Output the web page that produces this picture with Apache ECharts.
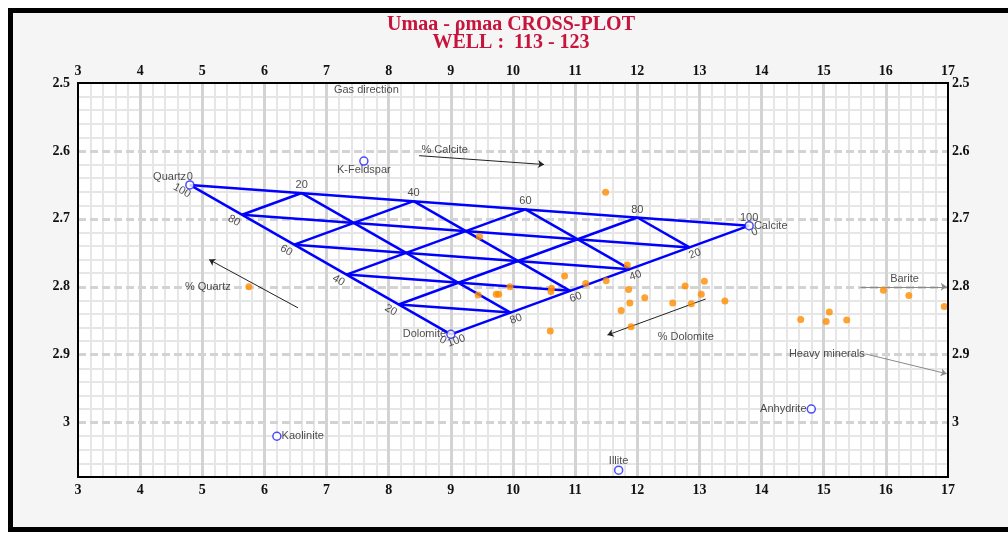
<!DOCTYPE html>
<html>
<head>
<meta charset="utf-8">
<script src="https://cdn.jsdelivr.net/npm/echarts@6/dist/echarts.min.js"></script>
<style>
  html, body { margin: 0; padding: 0; background: #fff; }
  #frame { position: absolute; left: 8px; top: 8px; width: 1020px; height: 514px;
           border: 5px solid #000; background: #f5f5f5; }
  #chart { position: absolute; left: 0; top: 0; width: 1008px; height: 534px; }
</style>
</head>
<body>
<div id="frame"></div>
<div id="chart"></div>
<script>
// Axis ticks (Umaa on x, rho-maa on y)
const uTicks = [3, 4, 5, 6, 7, 8, 9, 10, 11, 12, 13, 14, 15, 16, 17];
const rhoTicks = [2.5, 2.6, 2.7, 2.8, 2.9, 3.0];
const rhoMax = 3.08;

// Reference minerals
const mineralNames = ['Quartz', 'K-Feldspar', 'Calcite', 'Dolomite', 'Kaolinite', 'Illite', 'Anhydrite'];
const mineralU     = [4.8, 7.6, 13.8, 9.0, 6.2, 11.7, 14.8];
const mineralRho   = [2.65, 2.615, 2.71, 2.87, 3.02, 3.07, 2.98];

// Ternary grid steps (percent) and edge tick values
const ternarySteps = [20, 40, 60, 80];
const edgeTicks = [0, 20, 40, 60, 80, 100];

// Well 113 - 123 samples
const wellU = [11.49, 9.46, 11.84, 10.83, 11.17, 11.50, 9.95, 9.44, 9.73, 9.77,
               10.62, 10.61, 11.86, 12.77, 13.08, 13.03, 13.41, 12.12, 11.88, 12.57,
               12.87, 11.74, 11.90, 10.60, 5.75, 15.96, 16.37, 16.94, 14.63, 15.09,
               15.04, 15.37];
const wellRho = [2.661, 2.726, 2.768, 2.784, 2.795, 2.791, 2.800, 2.812, 2.811, 2.811,
                 2.802, 2.807, 2.804, 2.799, 2.792, 2.811, 2.821, 2.816, 2.824, 2.824,
                 2.825, 2.835, 2.859, 2.865, 2.800, 2.805, 2.813, 2.829, 2.848, 2.837,
                 2.851, 2.849];

// Annotation texts
const noteLabels = ['Gas direction', '% Calcite', '% Quartz', '% Dolomite', 'Barite', 'Heavy minerals'];
const noteU   = [7.64, 8.90, 5.09, 12.78, 16.30, 15.05];
const noteRho = [2.510, 2.599, 2.800, 2.874, 2.789, 2.899];

// Trend arrows
const arrowNames   = ['% Calcite', '% Quartz', '% Dolomite', 'Barite', 'Heavy minerals'];
const arrowFromU   = [8.49, 6.54, 13.10, 15.59, 15.68];
const arrowFromRho = [2.607, 2.831, 2.818, 2.800, 2.899];
const arrowToU     = [10.50, 5.11, 11.52, 16.98, 16.98];
const arrowToRho   = [2.620, 2.760, 2.871, 2.800, 2.928];

// ---- layout / styles ----
const gridBox = { left: 78, top: 83, right: 60, bottom: 57 };
const SANS = '"Liberation Sans", Arial, sans-serif';
const SERIF = '"Liberation Serif", "Times New Roman", serif';
const TEXT = '#222';
const greyArrows = ['Barite', 'Heavy minerals'];

const mineralLabel = {
  'Quartz':     { position: 'left',   distance: -1, offset: [0, -8] },
  'K-Feldspar': { position: 'bottom', distance: -1 },
  'Calcite':    { position: 'right',  distance: 0 },
  'Dolomite':   { position: 'left',   distance: 0 },
  'Kaolinite':  { position: 'right',  distance: 0 },
  'Illite':     { position: 'top',    distance: -1 },
  'Anhydrite':  { position: 'left',   distance: 0 }
};

// ---- ternary Quartz-Calcite-Dolomite construction ----
const at = n => { const i = mineralNames.indexOf(n); return [mineralU[i], mineralRho[i]]; };
const Q = at('Quartz'), C = at('Calcite'), D = at('Dolomite');
const mix = (q, c, d) => [q * Q[0] + c * C[0] + d * D[0], q * Q[1] + c * C[1] + d * D[1]];

const ternaryLines = [{ coords: [Q, C] }, { coords: [Q, D] }, { coords: [D, C] }];
ternarySteps.forEach(p => {
  const f = p / 100;
  ternaryLines.push({ coords: [mix(1 - f, f, 0), mix(0, f, 1 - f)] }); // constant calcite
  ternaryLines.push({ coords: [mix(f, 1 - f, 0), mix(f, 0, 1 - f)] }); // constant quartz
  ternaryLines.push({ coords: [mix(1 - f, 0, f), mix(0, 1 - f, f)] }); // constant dolomite
});

const calciteTicks  = edgeTicks.map(p => mix(1 - p / 100, p / 100, 0).concat(p));
const quartzTicks   = edgeTicks.map(p => mix(p / 100, 0, 1 - p / 100).concat(p));
const dolomiteTicks = edgeTicks.map(p => mix(0, 1 - p / 100, p / 100).concat(p));

function tickSeries(data, offset, rotate) {
  return {
    type: 'scatter', data: data, symbolSize: 1, silent: true, z: 6,
    itemStyle: { color: 'transparent' },
    label: {
      show: true, position: 'inside', offset: offset, rotate: rotate,
      formatter: p => String(p.value[2]),
      fontFamily: SANS, fontSize: 11, color: TEXT
    }
  };
}

const isTick = (list, v) => list.some(t => Math.abs(t - v) < 1e-6);

const axisLabelStyle = { fontFamily: SERIF, fontWeight: 'bold', fontSize: 14, color: '#111' };

function xAxisDef(position, major) {
  return {
    type: 'value', position: position,
    min: uTicks[0], max: uTicks[uTicks.length - 1], interval: uTicks[1] - uTicks[0],
    axisLine: { show: false }, axisTick: { show: false },
    axisLabel: Object.assign({ margin: position === 'top' ? 5 : 6,
      formatter: v => isTick(uTicks, v) ? String(v) : '' }, axisLabelStyle),
    splitLine: { show: major, showMinLine: false, showMaxLine: false,
                 lineStyle: { color: '#d3d3d3', width: 3 } },
    minorTick: { show: false, splitNumber: 5 },
    minorSplitLine: { show: !major, lineStyle: { color: '#e6e6e6', width: 2 } },
    z: major ? 1 : 0
  };
}

function yAxisDef(position, major) {
  return {
    type: 'value', position: position, inverse: true,
    min: rhoTicks[0], max: rhoMax, interval: 0.1,
    axisLine: { show: false }, axisTick: { show: false },
    axisLabel: Object.assign({ margin: position === 'left' ? 8 : 4,
      formatter: v => isTick(rhoTicks, v) ? String(+v.toFixed(2)) : '' }, axisLabelStyle),
    splitLine: { show: major, showMinLine: false, showMaxLine: false,
                 lineStyle: { color: '#d3d3d3', width: 3, type: [8, 4] } },
    minorTick: { show: false, splitNumber: 5 },
    minorSplitLine: { show: !major, lineStyle: { color: '#e6e6e6', width: 2 } },
    z: major ? 1 : 0
  };
}

const chart = echarts.init(document.getElementById('chart'), null, { renderer: 'canvas' });
const plotW = 1008 - gridBox.left - gridBox.right;
const plotH = 534 - gridBox.top - gridBox.bottom;

chart.setOption({
  animation: false,
  backgroundColor: 'transparent',
  grid: Object.assign({ show: true, backgroundColor: '#fff', borderWidth: 0, containLabel: false }, gridBox),
  graphic: [
    {
      type: 'text', z: 10,
      style: {
        text: 'Umaa - ρmaa CROSS-PLOT\nWELL :  113 - 123',
        x: 511, y: 16, align: 'center', verticalAlign: 'top',
        font: 'bold 20px ' + SERIF, fill: '#c8143c', lineHeight: 18
      }
    },
    {
      type: 'rect', z: 100, silent: true,
      shape: { x: gridBox.left, y: gridBox.top, width: plotW, height: plotH },
      style: { fill: 'none', stroke: '#000', lineWidth: 2 }
    }
  ],
  xAxis: [xAxisDef('bottom', false), xAxisDef('top', true)],
  yAxis: [yAxisDef('left', false), yAxisDef('right', true)],
  series: [
    {
      type: 'lines', coordinateSystem: 'cartesian2d', silent: true, z: 3,
      data: ternaryLines,
      lineStyle: { color: '#0000ff', width: 2.5, opacity: 1 }
    },
    tickSeries(calciteTicks, [0, -8], 0),
    tickSeries(quartzTicks, [-4, 9], -30),
    tickSeries(dolomiteTicks, [3, 8], 20),
    {
      type: 'lines', coordinateSystem: 'cartesian2d', silent: true, z: 4,
      symbol: ['none', 'arrow'], symbolSize: 6,
      data: arrowNames.map((n, i) => ({
        name: n,
        coords: [[arrowFromU[i], arrowFromRho[i]], [arrowToU[i], arrowToRho[i]]],
        lineStyle: { color: greyArrows.includes(n) ? '#8a8a8a' : '#222', width: 1 }
      })),
      lineStyle: { width: 1, opacity: 1 }
    },
    {
      type: 'scatter', silent: true, z: 6, symbolSize: 1,
      itemStyle: { color: 'transparent' },
      data: noteLabels.map((n, i) => ({ name: n, value: [noteU[i], noteRho[i]] })),
      label: { show: true, position: 'inside', formatter: p => p.name,
               fontFamily: SANS, fontSize: 11, color: TEXT }
    },
    {
      name: 'Well 113 - 123', type: 'scatter', z: 7, symbolSize: 7,
      itemStyle: { color: '#ff8c00' },
      data: wellU.map((u, i) => [u, wellRho[i]])
    },
    {
      name: 'Minerals', type: 'scatter', z: 8, symbol: 'circle', symbolSize: 8,
      itemStyle: { color: '#fff', borderColor: '#2020ff', borderWidth: 1.5 },
      data: mineralNames.map((n, i) => ({
        name: n, value: [mineralU[i], mineralRho[i]],
        label: Object.assign({ show: true }, mineralLabel[n])
      })),
      label: { show: true, formatter: p => p.name, fontFamily: SANS, fontSize: 11, color: TEXT }
    }
  ]
});
</script>
</body>
</html>
